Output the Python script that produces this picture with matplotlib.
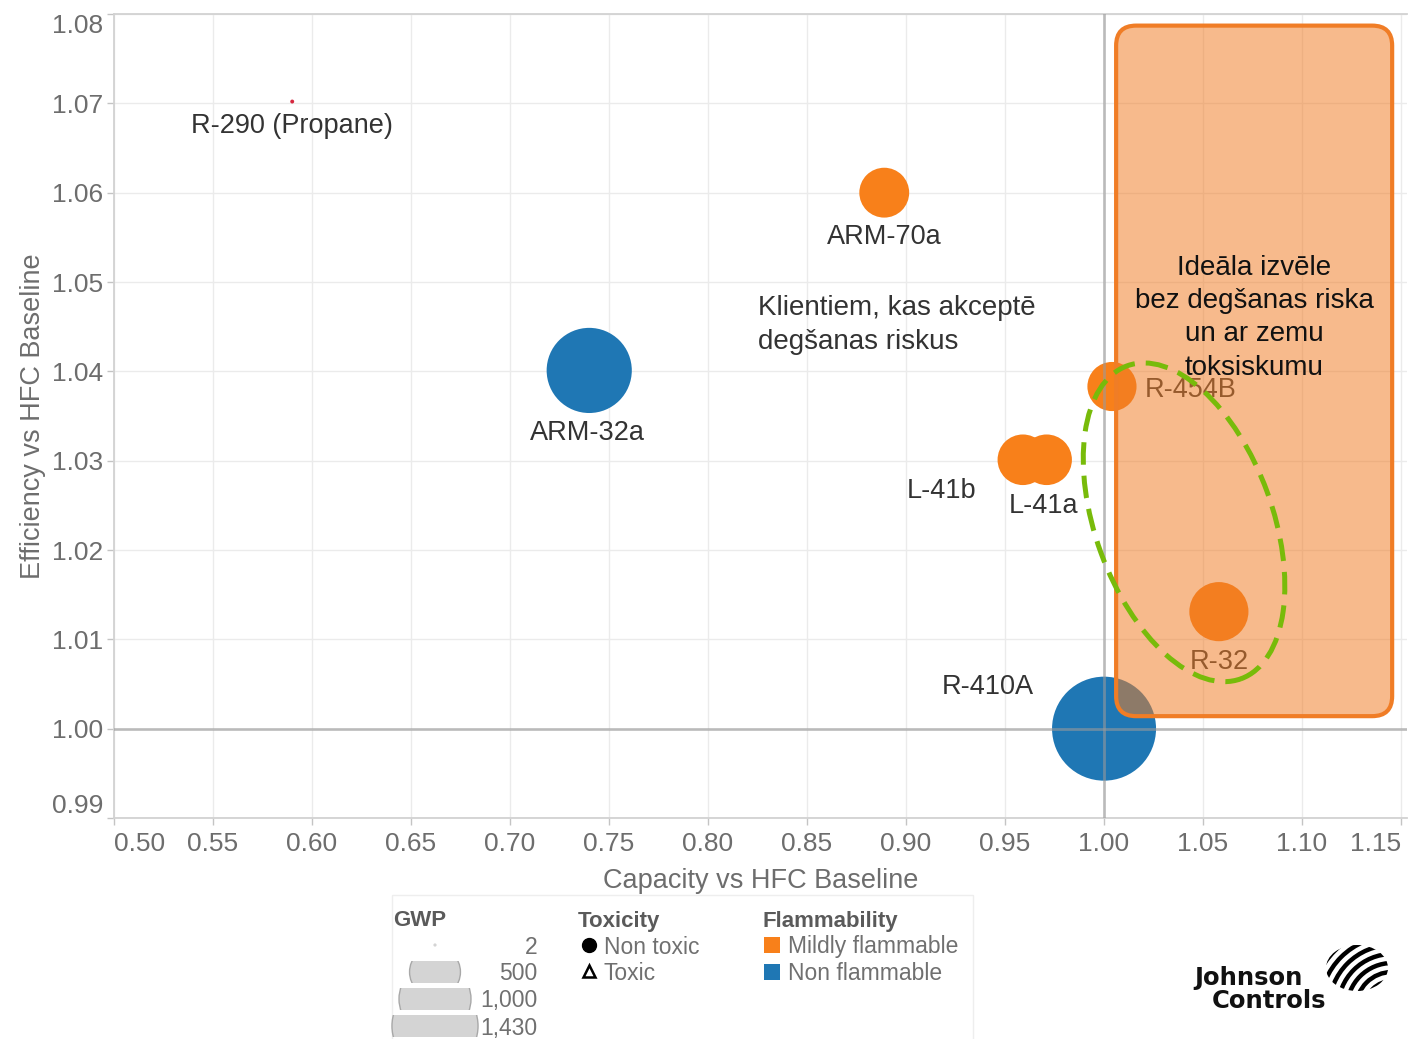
import matplotlib
matplotlib.use("Agg")
import matplotlib.pyplot as plt
import matplotlib.transforms as mtransforms
from matplotlib.patches import FancyBboxPatch, Ellipse, Circle, Rectangle, Arc
import numpy as np

plt.rcParams["font.family"] = ["Liberation Sans", "DejaVu Sans"]

# ---- data -------------------------------------------------------------
refrigerants = ["R-290 (Propane)", "ARM-70a", "ARM-32a", "R-454B",
                "L-41b", "L-41a", "R-32", "R-410A"]
capacity = [0.590, 0.889, 0.740, 1.004, 0.959, 0.971, 1.058, 1.000]
efficiency = [1.0702, 1.0600, 1.0401, 1.0383, 1.0301, 1.0301, 1.0131, 1.0000]
gwp = [3, 480, 1400, 466, 494, 494, 675, 2088]
flammability = ["Highly flammable", "Mildly flammable", "Non flammable",
                "Mildly flammable", "Mildly flammable", "Mildly flammable",
                "Mildly flammable", "Non flammable"]

x_ticks = [0.50, 0.55, 0.60, 0.65, 0.70, 0.75, 0.80, 0.85, 0.90,
           0.95, 1.00, 1.05, 1.10, 1.15]
y_ticks = [0.99, 1.00, 1.01, 1.02, 1.03, 1.04, 1.05, 1.06, 1.07, 1.08]

gwp_legend_values = [2, 500, 1000, 1430]
gwp_legend_labels = ["2", "500", "1,000", "1,430"]
toxicity_labels = ["Non toxic", "Toxic"]
flammability_labels = ["Mildly flammable", "Non flammable"]

# ---- styles -----------------------------------------------------------
colors = {"Highly flammable": "#D6273F",
          "Mildly flammable": "#F8801A",
          "Non flammable": "#1F77B4"}
RADIUS_PER_SQRT_GWP = 1.138          # bubble radius in pixels per sqrt(GWP)
DPI = 100
W_PX, H_PX = 1409, 1039
AX_L, AX_R, AX_T, AX_B = 114, 1407, 14, 818
XLIM = (0.50, 1.153)
YLIM = (0.99, 1.08)

# label offsets from each bubble, in pixels (dx, dy up) and alignment
label_offsets = [(0, -24, "center"), (0, -44, "center"), (-2, -63, "center"),
                 (33, -3, "left"), (-81, -31, "center"), (-3, -46, "center"),
                 (0, -50, "center"), (-116, 42, "center")]

fig = plt.figure(figsize=(W_PX / DPI, H_PX / DPI), dpi=DPI)
ax = fig.add_axes([AX_L / W_PX, (H_PX - AX_B) / H_PX,
                   (AX_R - AX_L) / W_PX, (AX_B - AX_T) / H_PX])
ax.set_xlim(*XLIM)
ax.set_ylim(*YLIM)

# grid, reference lines, spines
ax.set_xticks(x_ticks)
ax.set_yticks(y_ticks)
ax.set_xticklabels([f"{v:.2f}" for v in x_ticks])
ax.set_yticklabels([f"{v:.2f}" for v in y_ticks])
ax.grid(True, color="#ebebeb", lw=1.0, zorder=0)
ax.set_axisbelow(True)
for side in ("left", "bottom", "top"):
    ax.spines[side].set_color("#d2d2d2")
    ax.spines[side].set_linewidth(1.3)
ax.spines["right"].set_visible(False)
ax.tick_params(axis="both", colors="#c4c4c4", labelcolor="#6d6d6d",
               labelsize=19, length=5, width=1)
ax.tick_params(axis="x", pad=5)
ax.tick_params(axis="y", pad=3)
xt = ax.get_xticklabels()
xt[0].set_ha("left")
xt[-1].set_ha("right")
yt = ax.get_yticklabels()
yt[0].set_va("bottom")
yt[-1].set_va("top")

ax.set_xlabel("Capacity vs HFC Baseline", fontsize=19.5, color="#6d6d6d",
              labelpad=9)
ax.set_ylabel("Efficiency vs HFC Baseline", fontsize=19.5, color="#6d6d6d",
              labelpad=4)

ax.axvline(1.0, color="#9a9a9a", lw=2, alpha=0.6, zorder=3.5)
ax.axhline(1.0, color="#9a9a9a", lw=2, alpha=0.6, zorder=3.5)

# bubbles: area proportional to GWP
radii_px = RADIUS_PER_SQRT_GWP * np.sqrt(np.array(gwp, dtype=float))
sizes = (2 * radii_px * 72 / DPI) ** 2
ax.scatter(capacity, efficiency, s=sizes,
           c=[colors[f] for f in flammability], edgecolors="none", zorder=3)

for name, x, y, (dx, dy, ha) in zip(refrigerants, capacity, efficiency,
                                    label_offsets):
    ax.annotate(name, (x, y), xytext=(dx * 72 / DPI, dy * 72 / DPI),
                textcoords="offset points", ha=ha, va="center",
                fontsize=19.5, color="#333333", zorder=4)

# highlighted region (rounded box)
px_per_x = (AX_R - AX_L) / (XLIM[1] - XLIM[0])
px_per_y = (AX_B - AX_T) / (YLIM[1] - YLIM[0])
box_x0, box_x1 = 1.0061, 1.1455
box_y0, box_y1 = 1.0014, 1.0787
box = FancyBboxPatch((box_x0, box_y0), box_x1 - box_x0, box_y1 - box_y0,
                     boxstyle="round,pad=0,rounding_size=%f" % (20 / px_per_x),
                     mutation_aspect=px_per_x / px_per_y,
                     facecolor=(0.94, 0.49, 0.15, 0.53), edgecolor="#F07D26",
                     lw=3.0, zorder=5)
ax.add_patch(box)
ax.text((box_x0 + box_x1) / 2, 1.0460,
        "Ideāla izvēle\nbez degšanas riska\nun ar zemu\ntoksiskumu",
        ha="center", va="center", fontsize=20, color="#111111",
        linespacing=1.37, zorder=6)

ax.text(0.8253, 1.04855, "Klientiem, kas akceptē\ndegšanas riskus",
        ha="left", va="top", fontsize=20, color="#333333",
        linespacing=1.4, zorder=6)

# dashed green ellipse around the recommended refrigerants
ell_center = (1.0404, 1.0231)
ell_tr = fig.dpi_scale_trans + mtransforms.ScaledTranslation(
    ell_center[0], ell_center[1], ax.transData)
ell = Ellipse((0, 0), 177 / DPI, 333 / DPI, angle=20, transform=ell_tr,
              fill=False, edgecolor="#78BB0A", lw=3.6,
              linestyle=(0, (4.5, 2.2)), zorder=7)
ax.add_patch(ell)

# ---- legend and logo in pixel coordinates -------------------------------
lax = fig.add_axes([0, 0, 1, 1])
lax.set_xlim(0, W_PX)
lax.set_ylim(H_PX, 0)
lax.axis("off")
lax.patch.set_visible(False)

lax.add_patch(Rectangle((392, 895), 581, 160, fill=False,
                        ec="#eeeeee", lw=1))
head_kw = dict(fontsize=16, weight="bold", color="#5a5a5a", va="center")
item_kw = dict(fontsize=16.5, color="#707070", va="center")

lax.text(393, 921, "GWP", **head_kw)
row_y = [945, 972, 999, 1026]
for v, lab, yy in zip(gwp_legend_values, gwp_legend_labels, row_y):
    r = RADIUS_PER_SQRT_GWP * np.sqrt(v)
    c = Circle((435, yy), r, facecolor="#d4d4d4", edgecolor="#a8a8a8",
               lw=1.0 if v > 10 else 0)
    lax.add_patch(c)
    clip = Rectangle((380, yy - 11), 110, 22, transform=lax.transData)
    c.set_clip_path(clip)
    lax.text(537, yy + 2, lab, ha="right", **item_kw)

lax.text(578, 921, "Toxicity", **head_kw)
lax.plot([589], [945], "o", ms=10, color="black")
lax.plot([589], [971], "^", ms=9, mfc="white", mec="black", mew=1.8)
for lab, yy in zip(toxicity_labels, row_y[:2]):
    lax.text(604, yy + 2, lab, ha="left", **item_kw)

lax.text(762, 921, "Flammability", **head_kw)
for lab, yy in zip(flammability_labels, row_y[:2]):
    lax.add_patch(Rectangle((764, yy - 8), 16, 16, facecolor=colors[lab],
                            edgecolor="none"))
    lax.text(788, yy + 2, lab, ha="left", **item_kw)

# company logo
logo_kw = dict(fontsize=17.5, weight="bold", color="#111111", va="center",
               family="DejaVu Sans")
lax.text(1194, 978, "Johnson", **logo_kw)
lax.text(1212, 1001, "Controls", **logo_kw)
globe = Ellipse((1357, 968), 62, 46, transform=lax.transData)
for k, rr in enumerate(range(18, 90, 9)):
    arc = Arc((1392, 1008), 2 * rr, 2 * rr, theta1=90, theta2=270,
              color="black", lw=3.2)
    lax.add_patch(arc)
    arc.set_clip_path(globe)

fig.savefig("out.png", dpi=DPI)
